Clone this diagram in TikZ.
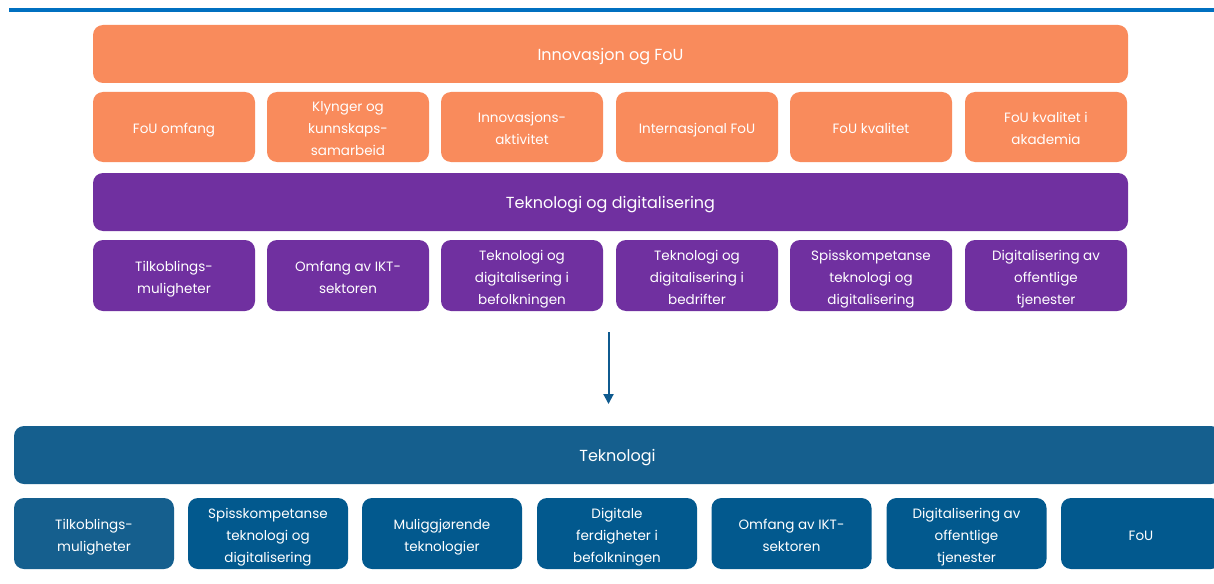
\documentclass[tikz,border=0pt]{standalone}
\usepackage{fontspec}
\setmainfont{Poppins}
\usetikzlibrary{arrows.meta}
\definecolor{topline}{HTML}{0070C0}
\definecolor{orng}{HTML}{F98B5C}
\definecolor{purp}{HTML}{7030A0}
\definecolor{bbar}{HTML}{155F8E}
\definecolor{bbox}{HTML}{02598E}
\definecolor{arr}{HTML}{0F5A8F}
\newcommand{\bxt}[1]{\raisebox{-2.5pt}[\height][\depth]{\begin{tabular}{@{}c@{}}#1\end{tabular}}}
\tikzset{
  box/.style={rounded corners=10pt, inner sep=0pt, text=white,
    font=\fontsize{13.5}{22}\selectfont},
  bigtext/.style={font=\fontsize{16}{22}\selectfont},
  obar/.style={box, bigtext, fill=orng, minimum width=1035pt, minimum height=58pt},
  pbar/.style={box, bigtext, fill=purp, minimum width=1035pt, minimum height=58pt},
  obox/.style={box, fill=orng, minimum width=162pt, minimum height=70pt},
  pbox/.style={box, fill=purp, minimum width=162pt, minimum height=71pt},
  tbar/.style={box, bigtext, fill=bbar, minimum width=1207pt, minimum height=58pt},
  tbox/.style={box, fill=bbox, minimum width=160pt, minimum height=71pt},
}
\begin{document}
\begin{tikzpicture}[x=1pt,y=-1pt]
\clip (0,0) rectangle (1214,583);
\fill[white] (0,0) rectangle (1214,583);
\draw[topline, line width=3.5pt] (9,10) -- (1214,10);

\node[obar] (inno) at (610.5,54) {\bxt{Innovasjon og FoU}};
\node[obox] (o1) at (174,127) {\bxt{FoU omfang}};
\node[obox] (o2) at (348,127) {\bxt{Klynger og\\kunnskaps-\\samarbeid}};
\node[obox] (o3) at (522,127) {\bxt{Innovasjons-\\aktivitet}};
\node[obox] (o4) at (697,127) {\bxt{Internasjonal FoU}};
\node[obox] (o5) at (871,127) {\bxt{FoU kvalitet}};
\node[obox] (o6) at (1046,127) {\bxt{FoU kvalitet i\\akademia}};

\node[pbar] (tekdig) at (610.5,202) {\bxt{Teknologi og digitalisering}};
\node[pbox] (p1) at (174,275.5) {\bxt{Tilkoblings-\\muligheter}};
\node[pbox] (p2) at (348,275.5) {\bxt{Omfang av IKT-\\sektoren}};
\node[pbox] (p3) at (522,275.5) {\bxt{Teknologi og\\digitalisering i\\befolkningen}};
\node[pbox] (p4) at (697,275.5) {\bxt{Teknologi og\\digitalisering i\\bedrifter}};
\node[pbox] (p5) at (871,275.5) {\bxt{Spisskompetanse\\teknologi og\\digitalisering}};
\node[pbox] (p6) at (1046,275.5) {\bxt{Digitalisering av\\offentlige\\tjenester}};

\coordinate (as) at (608.5,332);
\coordinate (ae) at (608.5,404);
\draw[arr, line width=2pt, -{Triangle[width=10pt,length=10pt]}] (as) -- (ae);

\node[tbar] (tek) at (617.5,455) {\bxt{Teknologi}};
\node[tbox, fill=bbar] (t1) at (94,533.5) {\bxt{Tilkoblings-\\muligheter}};
\node[tbox] (t2) at (268,533.5) {\bxt{Spisskompetanse\\teknologi og\\digitalisering}};
\node[tbox] (t3) at (442,533.5) {\bxt{Muliggjørende\\teknologier}};
\node[tbox] (t4) at (617,533.5) {\bxt{Digitale\\ferdigheter i\\befolkningen}};
\node[tbox] (t5) at (791.5,533.5) {\bxt{Omfang av IKT-\\sektoren}};
\node[tbox] (t6) at (966.5,533.5) {\bxt{Digitalisering av\\offentlige\\tjenester}};
\node[tbox] (t7) at (1141,533.5) {\bxt{FoU}};
\end{tikzpicture}
\end{document}
